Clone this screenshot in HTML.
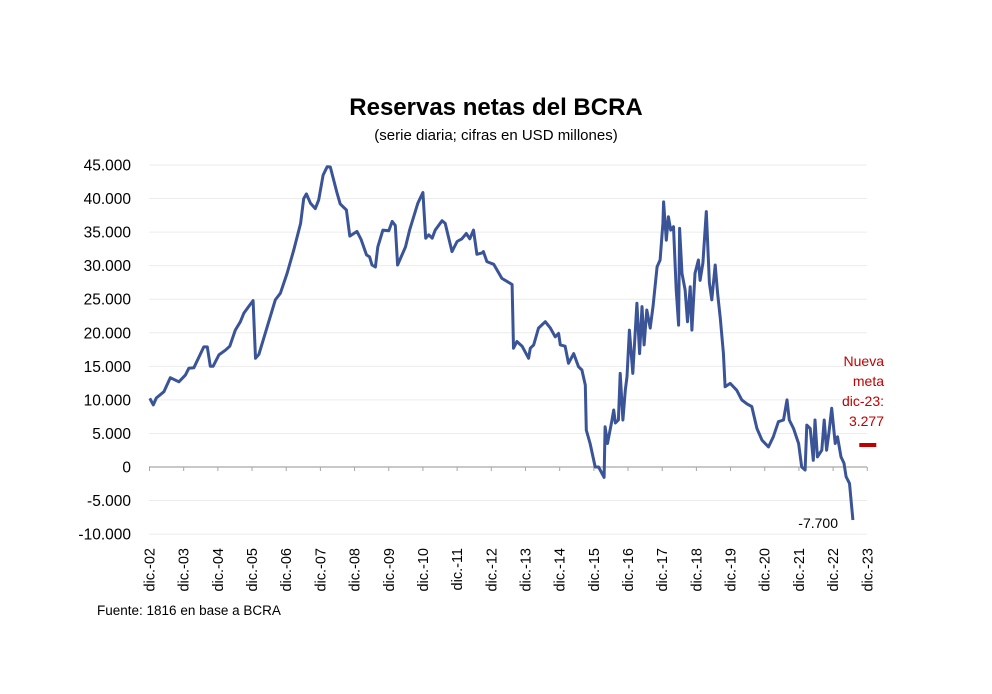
<!DOCTYPE html>
<html><head><meta charset="utf-8"><style>
html,body{margin:0;padding:0;background:#fff;}
svg{display:block;font-family:"Liberation Sans",Arial,sans-serif;}
</style></head><body>
<svg id="chart" width="992" height="694" viewBox="0 0 992 694" xmlns="http://www.w3.org/2000/svg">
<rect width="992" height="694" fill="#fff"/>
<text x="496" y="115" text-anchor="middle" font-size="24" font-weight="bold" fill="#000">Reservas netas del BCRA</text>
<text x="496" y="140" text-anchor="middle" font-size="15" fill="#000">(serie diaria; cifras en USD millones)</text>
<g id="grid"></g>
<g id="yaxis"></g>
<g id="xaxis"></g>
<g id="series"></g>
<text font-size="14" fill="#c00000" text-anchor="end">
<tspan x="884" y="366">Nueva</tspan><tspan x="884" y="386">meta</tspan><tspan x="884" y="406">dic-23:</tspan><tspan x="884" y="426">3.277</tspan></text>
<text x="838" y="528" text-anchor="end" font-size="14" fill="#000">-7.700</text>
<text x="97" y="615" font-size="13.5" fill="#000">Fuente: 1816 en base a BCRA</text>
</svg>
<script>
// years elapsed since dic-02
const times = [0.01,0.11,0.2,0.42,0.61,0.86,1.05,1.15,1.3,1.59,1.69,1.78,1.86,2.03,2.22,2.35,2.51,2.66,2.76,2.9,3.03,3.1,3.2,3.68,3.83,4.03,4.22,4.42,4.51,4.59,4.71,4.85,4.95,5.08,5.2,5.29,5.49,5.58,5.76,5.86,6.07,6.19,6.35,6.44,6.51,6.61,6.68,6.83,7.0,7.1,7.19,7.26,7.49,7.61,7.85,8.0,8.08,8.17,8.27,8.36,8.56,8.65,8.85,9.0,9.14,9.27,9.37,9.48,9.58,9.73,9.77,9.87,10.07,10.31,10.61,10.65,10.75,10.9,11.09,11.14,11.24,11.38,11.58,11.73,11.87,11.97,12.02,12.16,12.26,12.41,12.55,12.65,12.75,12.78,12.89,13.04,13.14,13.3,13.33,13.4,13.53,13.58,13.63,13.72,13.77,13.85,13.92,13.97,14.04,14.14,14.26,14.34,14.41,14.47,14.55,14.65,14.73,14.85,14.94,15.02,15.04,15.12,15.18,15.25,15.33,15.41,15.48,15.51,15.58,15.67,15.74,15.82,15.87,15.96,16.06,16.11,16.19,16.29,16.38,16.45,16.55,16.62,16.7,16.79,16.84,16.99,17.18,17.33,17.48,17.62,17.77,17.92,18.11,18.25,18.4,18.55,18.65,18.72,18.84,18.99,19.08,19.18,19.23,19.33,19.42,19.47,19.54,19.67,19.74,19.81,19.88,19.96,20.06,20.13,20.23,20.32,20.38,20.48,20.58];
const reserves = [10240,9250,10280,11220,13300,12700,13700,14700,14800,17900,17900,15000,15000,16700,17400,18000,20400,21650,22900,23900,24800,16200,16800,24900,25900,28900,32300,36300,40000,40700,39300,38500,39800,43500,44750,44700,40800,39200,38300,34400,35100,33900,31600,31300,30100,29800,32800,35300,35200,36600,36000,30100,32800,35300,39300,40900,34100,34600,34100,35300,36700,36300,32100,33600,34000,34800,34000,35300,31700,31900,32100,30600,30200,28100,27200,17700,18700,18000,16200,17700,18200,20700,21650,20700,19400,19900,18200,18000,15450,16900,14950,14450,12200,5500,3500,0,0,-1550,6000,3500,7000,8500,6550,7000,13950,7000,11450,13450,20400,13950,24400,16900,23900,18200,23400,20700,23900,29850,30850,36300,39500,33800,37300,35300,35800,26400,21150,35550,28850,26400,21650,26850,20400,28850,30850,27800,30400,38050,27400,24900,30100,25900,22150,16950,11950,12450,11450,10000,9400,9000,5750,4000,3000,4500,6750,7000,10000,7000,5750,3500,0,-450,6250,5750,1000,7000,1500,2500,7000,2500,5200,8750,3500,4500,1500,550,-1450,-2450,-7900];
const categories = ["dic.-02","dic.-03","dic.-04","dic.-05","dic.-06","dic.-07","dic.-08","dic.-09","dic.-10","dic.-11","dic.-12","dic.-13","dic.-14","dic.-15","dic.-16","dic.-17","dic.-18","dic.-19","dic.-20","dic.-21","dic.-22","dic.-23"];
const yTicks = [45000,40000,35000,30000,25000,20000,15000,10000,5000,0,-5000,-10000];
const yTickLabels = ["45.000","40.000","35.000","30.000","25.000","20.000","15.000","10.000","5.000","0","-5.000","-10.000"];
const goalValue = [3277];
const goalTime = [21.0];

const NS="http://www.w3.org/2000/svg";
const X0=149.5, PXYR=34.18, Y0=467, PXV=302/45000;
function xs(t){return X0+t*PXYR;}
function ys(v){return Y0-v*PXV;}
function mk(tag,attrs,parent){const e=document.createElementNS(NS,tag);for(const k in attrs)e.setAttribute(k,attrs[k]);parent.appendChild(e);return e;}
const grid=document.getElementById('grid'),yax=document.getElementById('yaxis'),xax=document.getElementById('xaxis'),ser=document.getElementById('series');
yTicks.forEach((v,i)=>{
  if(v!==0){const g=mk('line',{x1:149,x2:867,y1:ys(v),y2:ys(v),stroke:'#ececec','stroke-width':1},grid);
  
  }
  const t=mk('text',{x:131,y:ys(v)+5.5,'text-anchor':'end','font-size':15.5,fill:'#000'},yax);
  t.textContent=yTickLabels[i];
  
  
});
const ax=mk('line',{x1:149,x2:867,y1:Y0,y2:Y0,stroke:'#a6a6a6','stroke-width':1.2},xax);


categories.forEach((c,i)=>{
  const x=xs(i);
  const tk=mk('line',{x1:x,x2:x,y1:Y0,y2:Y0+4,stroke:'#a6a6a6','stroke-width':1},xax);
  
  
  const t=mk('text',{x:0,y:0,'text-anchor':'end','font-size':14.5,fill:'#000',transform:`translate(${x+5},548) rotate(-90)`},xax);
  t.textContent=c;
  
  
});
const d=times.map((t,i)=>(i?'L':'M')+xs(t).toFixed(1)+','+ys(reserves[i]).toFixed(1)).join('');
const p=mk('path',{d:d,fill:'none',stroke:'#3a5497','stroke-width':3,'stroke-linejoin':'round'},ser);


const gm=mk('line',{x1:xs(goalTime[0])-8,x2:xs(goalTime[0])+9,y1:ys(goalValue[0]),y2:ys(goalValue[0]),stroke:'#c00000','stroke-width':4},ser);


</script>
</body></html>
